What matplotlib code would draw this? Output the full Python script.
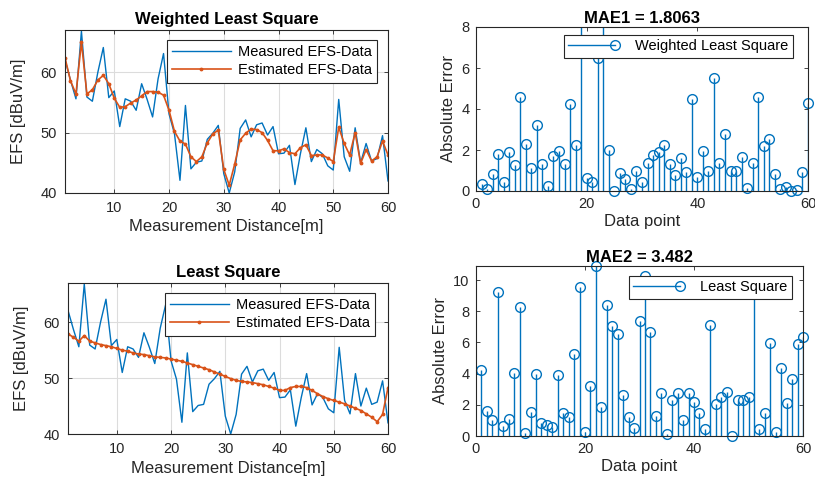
import matplotlib
matplotlib.use("Agg")
import matplotlib.pyplot as plt
import numpy as np
from matplotlib.lines import Line2D
from matplotlib.legend_handler import HandlerBase

# ---------------- data ----------------
distance = list(range(1, 61))
measured = [62.1, 58.7, 55.6, 66.8, 55.9, 55.2, 60.0, 64.1, 55.8, 56.9,
            51.0, 55.6, 55.2, 53.7, 58.1, 55.5, 52.6, 58.9, 63.1, 53.1,
            49.8, 42.1, 54.5, 44.0, 45.1, 45.3, 48.9, 49.9, 51.2, 43.2,
            40.0, 43.5, 50.7, 52.1, 49.3, 51.3, 51.6, 49.6, 51.0, 46.5,
            46.6, 47.9, 41.4, 46.5, 50.8, 45.2, 47.2, 46.5, 44.5, 43.8,
            55.5, 46.0, 43.6, 50.8, 45.0, 48.2, 45.3, 45.7, 49.5, 42.0]
estimated_wls = [62.4, 58.6, 56.4, 65.0, 56.4, 57.1, 58.7, 59.5, 58.1, 55.7,
                 54.2, 54.3, 54.9, 55.4, 56.1, 56.8, 56.8, 56.7, 56.2, 53.7,
                 50.2, 48.6, 48.1, 46.0, 45.2, 46.0, 48.3, 49.8, 50.4, 43.9,
                 41.3, 44.8, 48.8, 49.9, 50.6, 50.5, 50.0, 48.7, 47.0, 47.0,
                 47.3, 46.7, 46.5, 47.5, 48.0, 46.2, 46.3, 46.3, 45.8, 45.2,
                 50.9, 48.2, 46.3, 50.0, 44.9, 47.2, 45.3, 46.0, 48.6, 46.3]
estimated_ls = [57.9, 57.3, 56.6, 57.6, 56.6, 56.3, 56.0, 55.8, 55.6, 55.3,
                55.0, 54.8, 54.5, 54.3, 54.2, 54.0, 53.8, 53.7, 53.6, 53.4,
                53.2, 53.0, 52.7, 52.4, 52.1, 51.8, 51.5, 51.1, 50.7, 50.3,
                49.9, 49.6, 49.4, 49.3, 49.2, 49.0, 48.8, 48.5, 48.2, 47.8,
                47.8, 48.3, 48.5, 48.5, 48.3, 47.8, 47.2, 46.7, 46.3, 46.0,
                45.7, 45.4, 45.0, 44.6, 44.2, 43.6, 43.0, 42.2, 43.5, 48.3]
data_point = list(range(1, 61))
abs_err_wls = [0.33, 0.08, 0.83, 1.80, 0.46, 1.89, 1.27, 4.60, 2.29, 1.14,
               3.22, 1.30, 0.26, 1.70, 1.95, 1.32, 4.23, 2.24, 8.60, 0.62,
               0.46, 6.47, 8.50, 2.00, 0.02, 0.90, 0.58, 0.08, 0.99, 0.42,
               1.35, 1.76, 1.89, 2.24, 1.33, 0.78, 1.59, 0.91, 4.47, 0.70,
               1.95, 0.98, 5.53, 1.38, 2.78, 0.98, 0.98, 1.64, 0.13, 1.38,
               4.60, 2.21, 2.52, 0.83, 0.08, 0.21, 0.02, 0.05, 0.91, 4.31]
abs_err_ls = [4.21, 1.60, 1.02, 9.21, 0.66, 1.06, 4.04, 8.26, 0.21, 1.55,
              3.96, 0.81, 0.70, 0.60, 3.89, 1.45, 1.23, 5.23, 9.53, 0.28,
              3.19, 10.90, 1.83, 8.43, 7.04, 6.51, 2.62, 1.19, 0.49, 7.40,
              10.28, 6.66, 1.30, 2.77, 0.11, 2.30, 2.77, 1.02, 2.77, 2.19,
              1.45, 0.45, 7.09, 2.04, 2.47, 2.79, 0.02, 2.30, 2.30, 2.47,
              9.80, 0.43, 1.45, 5.96, 0.28, 4.38, 2.09, 3.68, 5.91, 6.34]
mae1_title = "MAE1 = 1.8063"
mae2_title = "MAE2 = 3.482"

# ---------------- style ----------------
plt.rcParams['font.family'] = ['Liberation Sans', 'DejaVu Sans']
BLUE = '#0072BD'
ORANGE = '#D95319'
DARK = '#262626'
W, H = 815, 483

fig = plt.figure(figsize=(W / 100, H / 100), dpi=100)
BOXES = {}


def add_ax(l, r, t, b):
    ax = fig.add_axes([l / W, (H - b) / H, (r - l) / W, (b - t) / H])
    BOXES[ax] = (l, r, t, b)
    return ax


def legend_anchor(ax, right_px, top_px):
    l, r, t, b = BOXES[ax]
    return ((right_px - l) / (r - l), (b - top_px) / (b - t))


def style(ax, grid, pad):
    for s in ax.spines.values():
        s.set_color(DARK)
        s.set_linewidth(0.8)
    ax.tick_params(direction='in', length=3, width=0.6, colors=DARK,
                   labelsize=10.5, top=True, right=True, pad=pad)
    if grid:
        ax.grid(True, color='#dcdcdc', linewidth=0.8)
        ax.set_axisbelow(True)


class HandlerStemRight(HandlerBase):
    def create_artists(self, legend, orig_handle, xdescent, ydescent,
                       width, height, fontsize, trans):
        y = height / 2 - ydescent
        ln = Line2D([-xdescent, width - xdescent], [y, y], color=BLUE, lw=1.0)
        mk = Line2D([width - xdescent], [y], marker='o', mfc='none',
                    mec=BLUE, ms=7, mew=1.0, lw=0)
        ln.set_transform(trans)
        mk.set_transform(trans)
        return [ln, mk]


def line_panel(ax, est, title, leg_right, leg_top):
    ax.plot(distance, measured, color=BLUE, lw=1.0, label='Measured EFS-Data')
    ax.plot(distance, est, color=ORANGE, lw=1.2, marker='.', ms=3.5,
            label='Estimated EFS-Data')
    ax.set_xlim(1, 60)
    ax.set_ylim(40, 67)
    ax.set_xticks([10, 20, 30, 40, 50, 60])
    ax.set_yticks([40, 50, 60])
    style(ax, True, 6)
    ax.set_title(title, fontsize=12, fontweight='bold', pad=4, color='black')
    ax.set_xlabel('Measurement Distance[m]', fontsize=12, labelpad=3, color=DARK)
    ax.set_ylabel('EFS [dBuV/m]', fontsize=12, labelpad=10, color=DARK)
    leg = ax.legend(loc='upper right', bbox_to_anchor=legend_anchor(ax, leg_right, leg_top),
                    fontsize=10.5, frameon=True, fancybox=False,
                    framealpha=1, edgecolor=DARK, handlelength=4.0,
                    borderaxespad=0, labelspacing=0.3, borderpad=0.35,
                    handletextpad=0.5)
    leg.get_frame().set_linewidth(0.8)


def stem_panel(ax, err, ymax, yticks, title, label, leg_right, leg_top):
    ax.set_xlim(0, 60)
    ax.set_ylim(0, ymax)
    x = np.array(data_point)
    e = np.array(err)
    ax.vlines(x, 0, e, color=BLUE, lw=1.0)
    vis = e <= ymax
    ax.plot(x[vis], e[vis], ls='none', marker='o', mfc='none', mec=BLUE,
            ms=7, mew=1.0, clip_on=False)
    ax.set_xticks([0, 20, 40, 60])
    ax.set_yticks(yticks)
    style(ax, False, 4.5)
    ax.set_title(title, fontsize=12, fontweight='bold', pad=3, color='black')
    ax.set_xlabel('Data point', fontsize=12, labelpad=2, color=DARK)
    ax.set_ylabel('Absolute Error', fontsize=12, labelpad=4, color=DARK)
    proxy = Line2D([], [], color=BLUE)
    leg = ax.legend([proxy], [label], handler_map={proxy: HandlerStemRight()},
                    loc='upper right', bbox_to_anchor=legend_anchor(ax, leg_right, leg_top),
                    fontsize=10.5, frameon=True, fancybox=False,
                    framealpha=1, edgecolor=DARK, handlelength=3.2,
                    borderaxespad=0, borderpad=0.3, handletextpad=1.4)
    leg.get_frame().set_linewidth(0.8)


ax1 = add_ax(65, 388, 30, 193)
line_panel(ax1, estimated_wls, 'Weighted Least Square', 377, 40)

ax2 = add_ax(476, 808, 27, 191)
stem_panel(ax2, abs_err_wls, 8, [0, 2, 4, 6, 8], mae1_title, 'Weighted Least Square', 793, 35)

ax3 = add_ax(68, 388, 283, 434)
line_panel(ax3, estimated_ls, 'Least Square', 375, 293)

ax4 = add_ax(476, 803, 266, 436)
stem_panel(ax4, abs_err_ls, 10.9, [0, 2, 4, 6, 8, 10], mae2_title, 'Least Square', 792, 276)

fig.savefig('out.png', dpi=100, facecolor='white')
